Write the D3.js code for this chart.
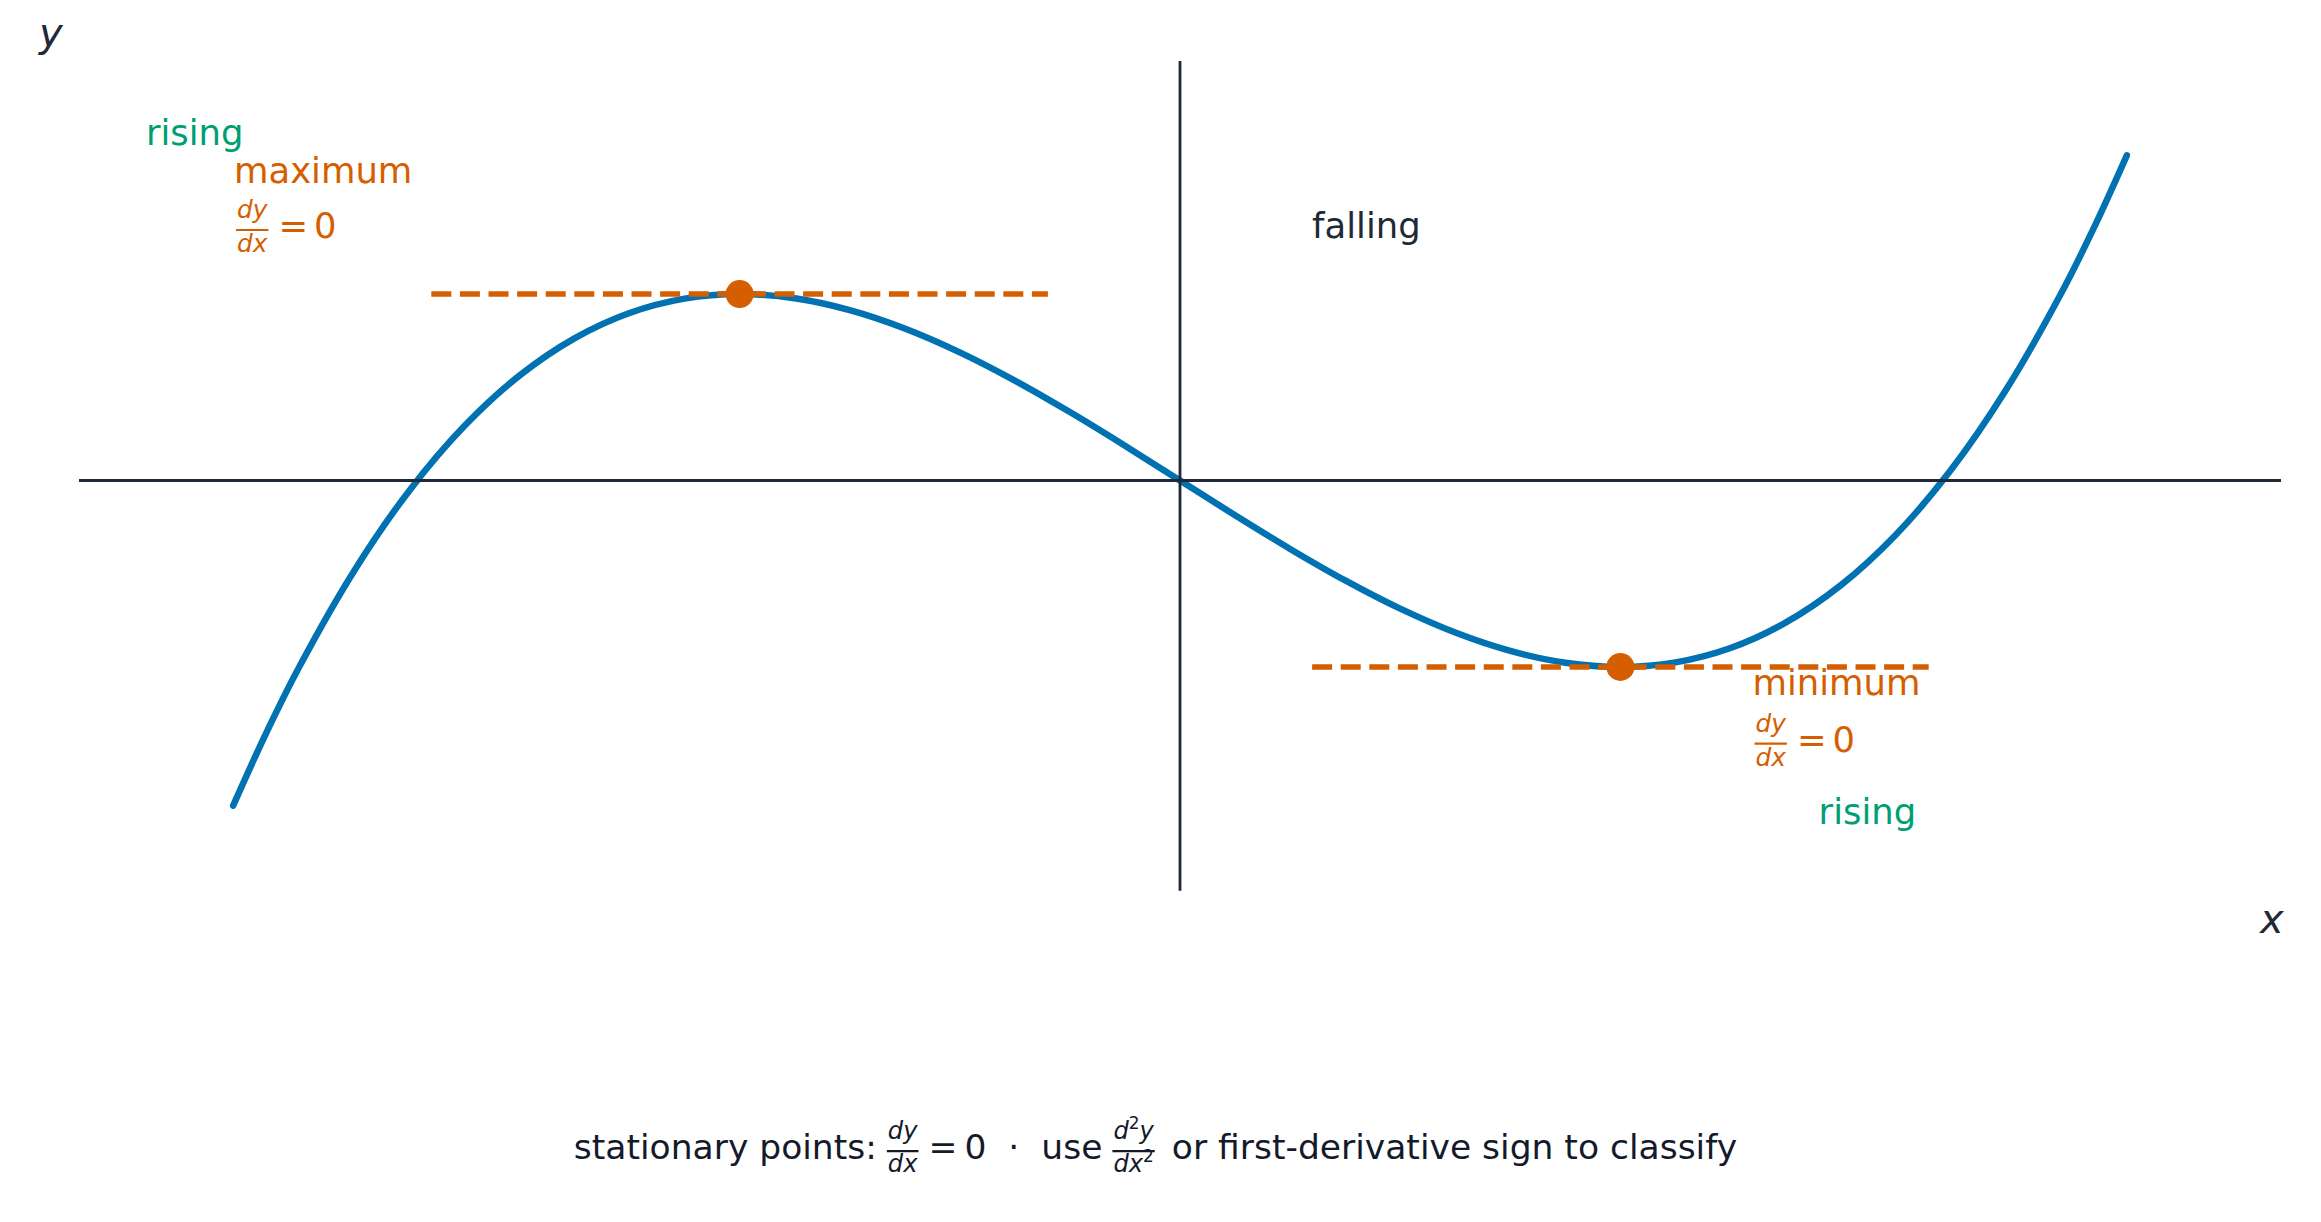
<!DOCTYPE html>
<html><head><meta charset="utf-8">
<script src="https://cdn.jsdelivr.net/npm/d3@7"></script>
<style>
body{margin:0;background:#fff}
svg{display:block;background:#fff}
text{font-family:"DejaVu Sans",sans-serif}
</style>
</head><body>
<svg id="chart" width="2321" height="1222"></svg>
<script>
// ---------- data ----------
const curveX = [-2.15,-2.075,-2.0,-1.875,-1.75,-1.625,-1.5,-1.375,-1.25,-1.125,-1.0,-0.875,-0.75,-0.625,-0.5,-0.375,-0.25,-0.125,0,
                0.125,0.25,0.375,0.5,0.625,0.75,0.875,1.0,1.125,1.25,1.375,1.5,1.625,1.75,1.875,2.0,2.075,2.15];
const curveY = [-3.488,-2.709,-2.0,-0.967,-0.109,0.584,1.125,1.525,1.797,1.951,2.0,1.955,1.828,1.631,1.375,1.072,0.734,0.373,0,
                -0.373,-0.734,-1.072,-1.375,-1.631,-1.828,-1.955,-2.0,-1.951,-1.797,-1.525,-1.125,-0.584,0.109,0.967,2.0,2.709,3.488];
const stationaryX = [-1, 1];
const stationaryY = [2, -2];
const tangentFrom = [-1.7, 0.3];
const tangentTo = [-0.3, 1.7];
const xDomain = [-2.5, 2.5];
const yDomain = [-4.5, 4.5];
const xAxisExtent = [-2.5, 2.5];
const yAxisExtent = [-4.4, 4.5];

const labelText = ["rising", "maximum", "falling", "minimum", "rising"];
const labelX = [-2.348, -2.148, 0.30, 1.30, 1.45];
const labelY = [3.60, 3.19, 2.60, -2.30, -3.685];
const labelKind = ["rise", "stat", "fall", "stat", "rise"];
const fracX = [-2.148, 1.30];
const fracY = [2.60, -2.91];

const captionBefore = "stationary points:";
const captionMid = "use";
const captionAfter = "or first-derivative sign to classify";

// ---------- style ----------
const W = 2321, H = 1222;
const BLUE = "#0072B2", ORANGE = "#D55E00", GREEN = "#009E73", INK = "#1f2937", CAP = "#141a2a";
const kindColor = {rise: GREEN, stat: ORANGE, fall: INK};
const FS = 35.4;

const svg = d3.select("#chart");
svg.append("rect").attr("width", W).attr("height", H).attr("fill", "#fff");

const x = d3.scaleLinear().domain(xDomain).range([79, 2281]);
const y = d3.scaleLinear().domain(yDomain).range([900, 61]);

const curveData = curveX.map((v, i) => [v, curveY[i]]);

// curve
svg.append("path")
  .datum(curveData)
  .attr("d", d3.line().x(d => x(d[0])).y(d => y(d[1])).curve(d3.curveCatmullRom.alpha(0.5)))
  .attr("fill", "none")
  .attr("stroke", BLUE)
  .attr("stroke-width", 6.5)
  .attr("stroke-linecap", "round")
  .attr("stroke-linejoin", "round");

// axes
svg.append("line")
  .attr("x1", x(xAxisExtent[0])).attr("x2", x(xAxisExtent[1]))
  .attr("y1", y(0)).attr("y2", y(0))
  .attr("stroke", INK).attr("stroke-width", 2.8);
svg.append("line")
  .attr("x1", x(0)).attr("x2", x(0))
  .attr("y1", y(yAxisExtent[0])).attr("y2", y(yAxisExtent[1]))
  .attr("stroke", INK).attr("stroke-width", 2.8);

// tangents
svg.selectAll("line.tan")
  .data(stationaryX.map((v, i) => ({x0: tangentFrom[i], x1: tangentTo[i], y: stationaryY[i]})))
  .join("line")
  .attr("class", "tan")
  .attr("x1", d => x(d.x0)).attr("x2", d => x(d.x1))
  .attr("y1", d => y(d.y)).attr("y2", d => y(d.y))
  .attr("stroke", ORANGE).attr("stroke-width", 5.4)
  .attr("stroke-dasharray", "20 8.6");

// stationary dots
svg.selectAll("circle.st")
  .data(stationaryX.map((v, i) => [v, stationaryY[i]]))
  .join("circle")
  .attr("class", "st")
  .attr("cx", d => x(d[0])).attr("cy", d => y(d[1]))
  .attr("r", 14).attr("fill", ORANGE);

// labels
svg.selectAll("text.lab")
  .data(labelText.map((t, i) => ({t, x: labelX[i], y: labelY[i], c: kindColor[labelKind[i]]})))
  .join("text")
  .attr("class", "lab")
  .attr("x", d => x(d.x)).attr("y", d => y(d.y))
  .attr("font-size", FS).attr("fill", d => d.c)
  .text(d => d.t);

// axis names
svg.append("text").attr("x", 39).attr("y", 47).attr("font-size", 40).attr("font-style", "italic")
  .attr("fill", INK).text("y");
svg.append("text").attr("x", 2260).attr("y", 933).attr("font-size", 40).attr("font-style", "italic")
  .attr("fill", INK).text("x");

// ---------- inline math layout ----------
function runs(textSel, parts, fs) {
  let shift = 0;
  parts.forEach(p => {
    const ts = textSel.append("tspan").text(p.s);
    if (p.sup) {
      ts.attr("font-size", fs * 0.7).attr("font-style", "normal").attr("dy", -fs * 0.42);
      shift = fs * 0.42;
    } else {
      ts.attr("font-style", "italic");
      if (shift) { ts.attr("dy", shift); shift = 0; }
    }
  });
}
function inline(g, x0, base, parts, size, color) {
  let cx = x0;
  parts.forEach(p => {
    if (p.gap !== undefined) { cx += p.gap; return; }
    if (p.t !== undefined) {
      const t = g.append("text").attr("x", cx).attr("y", base).attr("font-size", size).attr("fill", color).text(p.t);
      cx += t.node().getComputedTextLength();
      return;
    }
    const fs = size * 0.7;
    const lineY = base - size * 0.23;
    const num = g.append("text").attr("font-size", fs).attr("fill", color);
    runs(num, p.num, fs);
    const den = g.append("text").attr("font-size", fs).attr("fill", color);
    runs(den, p.den, fs);
    const nw = num.node().getComputedTextLength(), dw = den.node().getComputedTextLength();
    const w = Math.max(nw, dw) + 2;
    num.attr("x", cx + (w - nw) / 2).attr("y", lineY - size * 0.34);
    den.attr("x", cx + (w - dw) / 2).attr("y", lineY + size * 0.62);
    g.append("line").attr("x1", cx).attr("x2", cx + w).attr("y1", lineY).attr("y2", lineY)
      .attr("stroke", color).attr("stroke-width", 2.2);
    cx += w;
  });
  return cx - x0;
}
const dydx = {num: [{s: "dy"}], den: [{s: "dx"}]};
const d2ydx2 = {num: [{s: "d"}, {s: "2", sup: true}, {s: "y"}], den: [{s: "dx"}, {s: "2", sup: true}]};

fracX.forEach((fx, i) => {
  const g = svg.append("g");
  inline(g, x(fx), y(fracY[i]), [{gap: 2}, dydx, {gap: 10}, {t: "="}, {gap: 6}, {t: "0"}], FS, ORANGE);
});

// caption
const capG = svg.append("g");
const CFS = 34.5;
const capW = inline(capG, 0, 1159, [
  {t: captionBefore}, {gap: 10}, dydx, {gap: 10}, {t: "="}, {gap: 7}, {t: "0"}, {gap: 22},
  {t: "·"}, {gap: 22}, {t: captionMid}, {gap: 10}, d2ydx2, {gap: 17}, {t: captionAfter}
], CFS, CAP);
capG.attr("transform", `translate(${W / 2 - capW / 2 - 5},0)`);
</script>
</body></html>
